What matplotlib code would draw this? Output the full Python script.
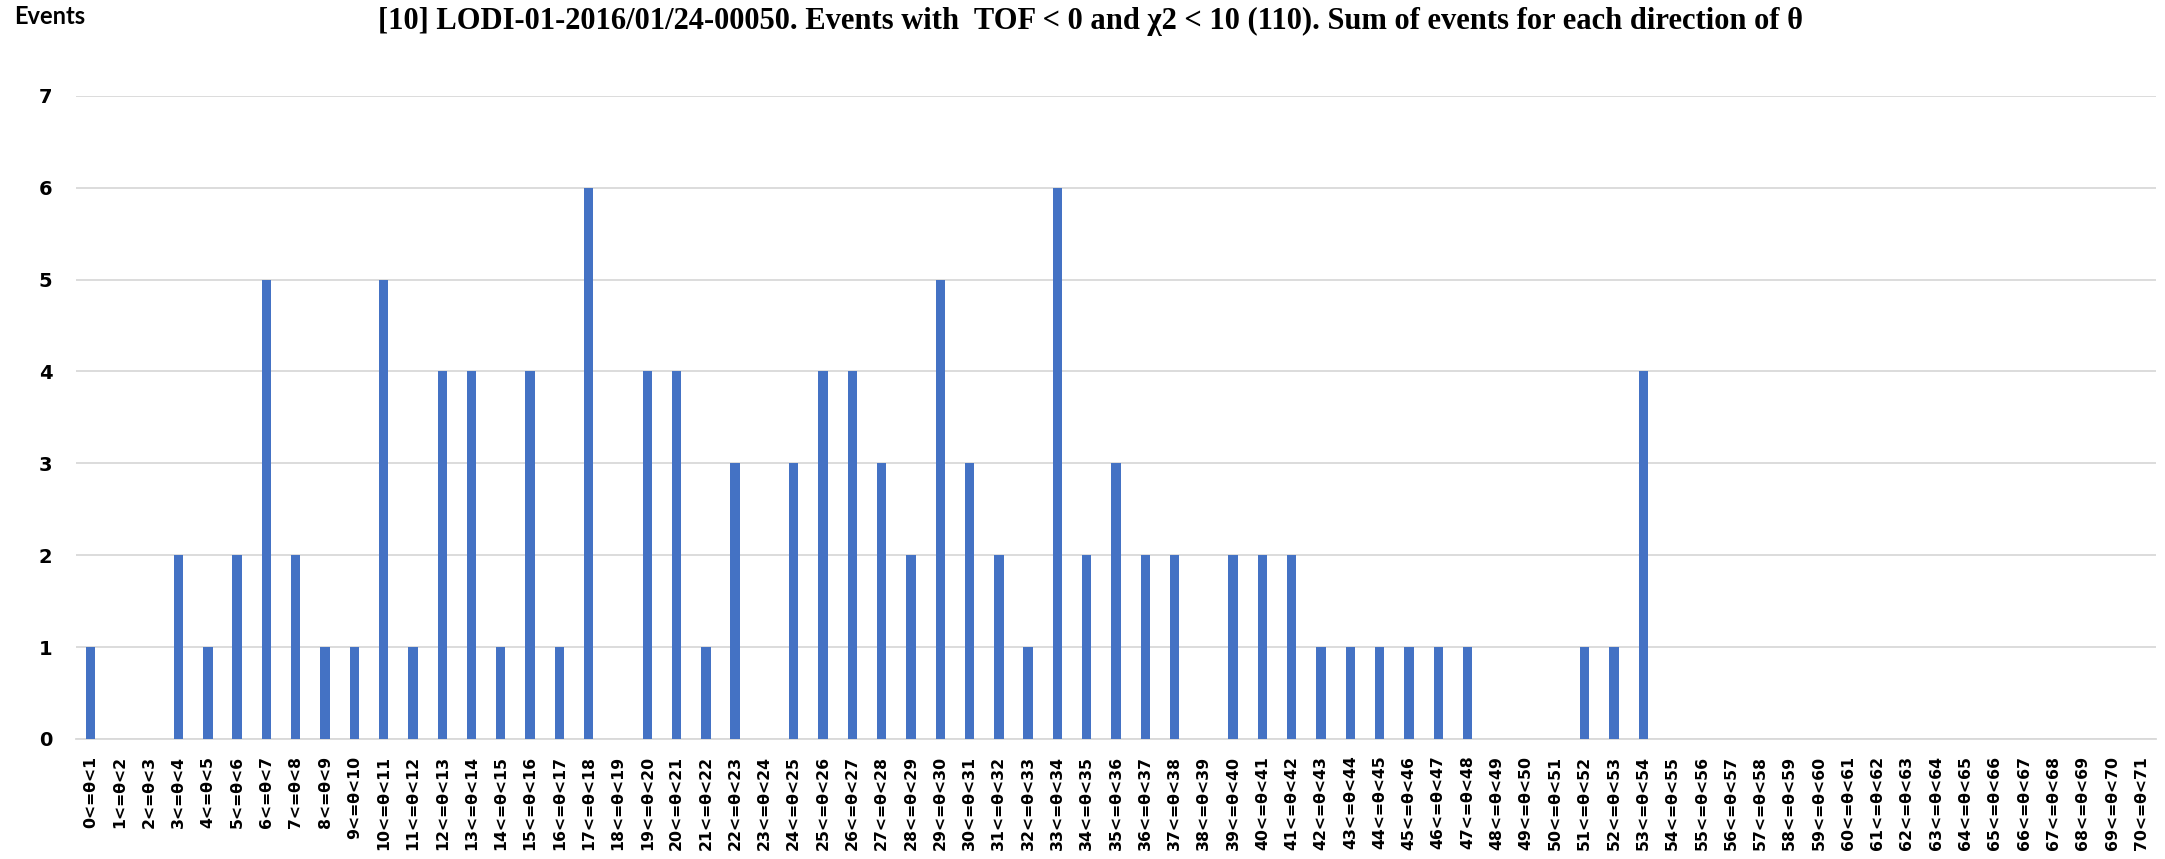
import matplotlib
matplotlib.use("Agg")
import matplotlib.pyplot as plt

# Event counts per 1-degree bin of theta
bin_lows = list(range(71))
tick_labels = [f"{a}<=\u03b8<{a + 1}" for a in bin_lows]
events = [1, 0, 0, 2, 1, 2, 5, 2, 1, 1,
          5, 1, 4, 4, 1, 4, 1, 6, 0, 4,
          4, 1, 3, 0, 3, 4, 4, 3, 2, 5,
          3, 2, 1, 6, 2, 3, 2, 2, 0, 2,
          2, 2, 1, 1, 1, 1, 1, 1, 0, 0,
          0, 1, 1, 4, 0, 0, 0, 0, 0, 0,
          0, 0, 0, 0, 0, 0, 0, 0, 0, 0,
          0]
y_ticks = [0, 1, 2, 3, 4, 5, 6, 7]
title = ("[10] LODI-01-2016/01/24-00050. Events with  TOF < 0 and \u03c72 < 10 (110). "
         "Sum of events for each direction of \u03b8")

W, H = 2165, 859
fig = plt.figure(figsize=(W / 100, H / 100), dpi=100)
ax_left, ax_right, ax_top, ax_bottom = 76, 2156, 95.7, 739
ax = fig.add_axes([ax_left / W, 1 - ax_bottom / H,
                   (ax_right - ax_left) / W, (ax_bottom - ax_top) / H])

x = list(range(len(events)))
ax.bar(x, events, width=0.32, color="#4472C4", zorder=3)

ax.set_xlim(-0.5, len(events) - 0.5)
ax.set_ylim(0, 7)
ax.set_yticks(y_ticks)
ax.set_yticklabels([str(v) for v in y_ticks], fontsize=14,
                   fontweight="bold", family="DejaVu Sans")
ax.set_xticks(x)
ax.set_xticklabels(tick_labels, rotation=90, fontsize=11.3,
                   fontweight="bold", family="DejaVu Sans")
ax.tick_params(axis="both", length=0)
ax.tick_params(axis="y", pad=17)
ax.tick_params(axis="x", pad=12)

ax.grid(axis="y", color="#d9d9d9", linewidth=1.3, zorder=0)
for side in ("left", "right", "top"):
    ax.spines[side].set_visible(False)
ax.spines["bottom"].set_color("#d9d9d9")
ax.spines["bottom"].set_linewidth(1.3)

fig.text(1090 / W, 1 - 21 / H, title, ha="center", va="center",
         fontsize=22, fontweight="bold", family="Liberation Serif")
fig.text(14 / W, 1 - 17 / H, "Events", ha="left", va="center",
         fontsize=17, fontweight="bold", family="Lato")

fig.savefig("out.png", dpi=100, facecolor="white")
